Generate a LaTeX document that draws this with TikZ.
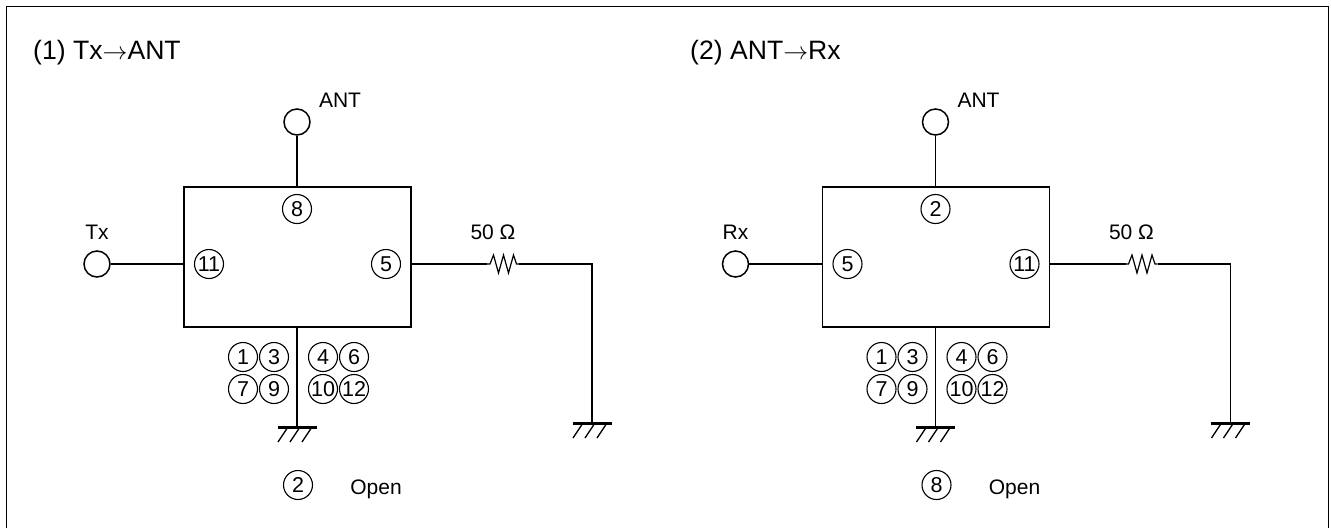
\documentclass[tikz,border=0pt]{standalone}
\usepackage{fontspec}
\setmainfont{Liberation Sans}
\usepackage{tikz}
\usetikzlibrary{positioning}
\usetikzlibrary{calc}
\tikzset{
  wire/.style={line width=1.8pt},
  portnum/.style={draw, circle, line width=1.1pt, minimum size=29pt, inner sep=0pt, font=\fontsize{21.5}{21.5}\selectfont},
  terminal/.style={draw, circle, line width=1.5pt, minimum size=26pt, inner sep=0pt},
  switchbox/.style={draw, line width=1.8pt, minimum width=227pt, minimum height=140pt, inner sep=0pt},
  tag/.style={inner sep=0pt, font=\fontsize{21}{21}\selectfont},
  titletext/.style={inner sep=0pt, anchor=west, font=\fontsize{26.6}{26.6}\selectfont},
}
% one ground symbol, hung below a named coordinate
\newcommand{\GroundAt}[1]{
  \draw[line width=3pt] ([xshift=-19.5pt]#1) -- ([xshift=19.5pt]#1);
  \draw[line width=1.3pt] ([xshift=-9pt]#1) -- ++(-10,15);
  \draw[line width=1.3pt] ([xshift=3pt]#1) -- ++(-10,15);
  \draw[line width=1.3pt] ([xshift=15pt]#1) -- ++(-10,15);
}
% #1 xshift, #2 prefix, #3 side label, #4 top, #5 left, #6 right, #7 below
\newcommand{\SwitchPath}[7]{
  \begin{scope}[xshift=#1pt, name prefix=#2]
    \node[switchbox] (box) at (297.5,257) {};
    \node[terminal] (ant) at (297,122) {};
    \node[terminal] (side) at (97,264) {};
    \node[tag] (antlabel) at (340,100) {ANT};
    \node[tag] (sidelabel) at (97,232) {#3};
    \node[tag] (ohm) at (493,232) {50 Ω};

    \node[portnum] (top) at (297,209) {#4};
    \node[portnum] (left) at (209,264) {#5};
    \node[portnum] (right) at (386,264) {#6};

    \node[portnum] (p1) at (243,357) {1};
    \node[portnum] (p3) at (274,357) {3};
    \node[portnum] (p7) at (243,389) {7};
    \node[portnum] (p9) at (274,389) {9};
    \node[portnum] (p4) at (323,357) {4};
    \node[portnum] (p6) at (354,357) {6};
    \node[portnum] (p10) at (323,389) {10};
    \node[portnum] (p12) at (354,389) {12};

    \node[portnum] (open) at (298,485) {#7};
    \node[tag] (opentext) at (376,489) {Open};

    \coordinate (gndA) at (297,427);
    \coordinate (gndB) at (592,423);
    \coordinate (resin) at (487,264);
    \coordinate (resout) at (519,264);
    \coordinate (bend) at (592,264);

    \draw[wire] (ant) -- (ant |- box.north);
    \draw[wire] (side) -- (side -| box.west);
    \draw[wire] (resin -| box.east) -- (resin);
    \draw[line width=1.2pt] (resin) -- ++(3,0) -- ++(3.5,-9) -- ++(5,18) -- ++(5,-18) -- ++(5,18) -- ++(5,-18) -- ++(3,9) -- (resout);
    \draw[wire] (resout) -- (bend) -- (gndB);
    \draw[wire] (box.south -| gndA) -- (gndA);
    \GroundAt{gndA}
    \GroundAt{gndB}
  \end{scope}
}

\begin{document}
\begin{tikzpicture}[x=1pt, y=-1pt]
\useasboundingbox (0,0) rectangle (1331,528);
\coordinate (frameA) at (6.5,528);
\coordinate (frameB) at (6.5,6.5);
\coordinate (frameC) at (1328.5,6.5);
\coordinate (frameD) at (1328.5,528);
\draw[line width=1.8pt] (frameA) -- (frameB) -- (frameC) -- (frameD);

\node[titletext] (titleA) at (33,53) {(1) Tx$\rightarrow$ANT};
\node[titletext] (titleB) at (690,53) {(2) ANT$\rightarrow$Rx};

\SwitchPath{0}{a}{Tx}{8}{11}{5}{2}
\SwitchPath{638.5}{b}{Rx}{2}{5}{11}{8}
\end{tikzpicture}
\end{document}
